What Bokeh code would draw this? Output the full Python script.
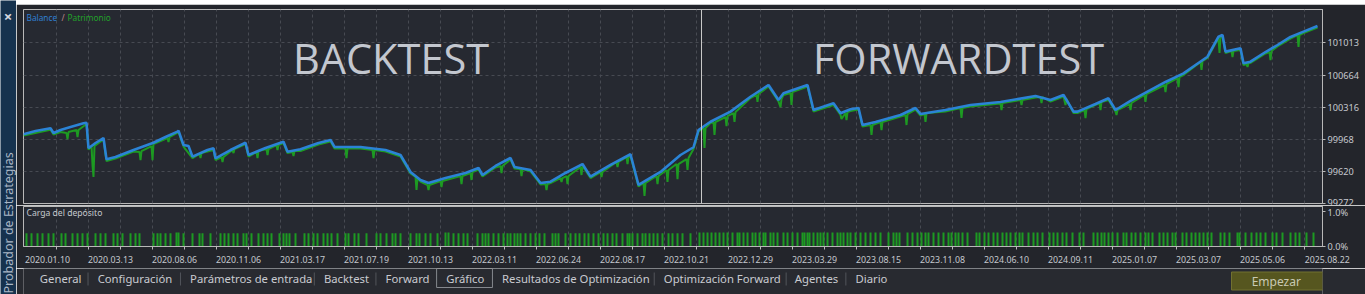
import math
from bokeh.plotting import figure
from bokeh.models import Range1d, LinearAxis, FixedTicker, Span, Grid
from bokeh.layouts import row, column
from bokeh.embed import file_html
from bokeh.resources import INLINE
from bokeh.core.properties import value

# ---------------- data ----------------
# x = deal index along the tester's x axis, value = account money
balance_pts = [
    (0, 100023), (12, 100058), (27, 100088), (30, 100037), (37, 100069), (47, 100102), (60, 100142),
    (63, 100148), (65, 99871), (72, 99928), (80, 99982), (83, 99751), (92, 99776), (110, 99852),
    (130, 99931), (142, 99993), (154, 100051), (155, 100062), (160, 99907), (165, 99896), (169, 99780),
    (184, 99852), (190, 99871), (192, 99762), (207, 99852), (222, 99931), (225, 99798), (242, 99874),
    (260, 99942), (264, 99834), (277, 99860), (295, 99928), (307, 99961), (311, 99885), (337, 99885),
    (362, 99852), (377, 99798), (387, 99614), (397, 99527), (405, 99494), (422, 99549), (442, 99603),
    (455, 99657), (459, 99581), (472, 99679), (487, 99766), (491, 99668), (507, 99635), (517, 99494),
    (527, 99508), (542, 99603), (559, 99700), (567, 99563), (587, 99690), (607, 99806), (615, 99473),
    (637, 99614), (657, 99798), (670, 99882), (675, 100069), (687, 100159), (707, 100268), (727, 100430),
    (745, 100557), (755, 100395), (760, 100467), (784, 100557), (790, 100286), (810, 100359), (817, 100250),
    (827, 100294), (835, 100308), (839, 100123), (852, 100156), (877, 100232), (892, 100308), (897, 100243),
    (922, 100286), (947, 100340), (977, 100373), (1012, 100438), (1027, 100395), (1040, 100449),
    (1050, 100268), (1054, 100268), (1072, 100351), (1085, 100413), (1092, 100286), (1107, 100384),
    (1124, 100485), (1142, 100590), (1160, 100684), (1172, 100774), (1184, 100864), (1195, 101081),
    (1199, 101100), (1202, 100919), (1217, 100956), (1220, 100793), (1227, 100810), (1242, 100915),
    (1254, 100991), (1267, 101078), (1280, 101136), (1294, 101197),
]

equity_pts = [
    (0, 100009), (27, 100071), (30, 100020), (37, 100047), (43, 100036), (44, 99971), (45, 100047),
    (53, 100069), (54, 99993), (55, 100069), (63, 100134), (65, 99857), (68, 99895), (69, 99689),
    (70, 99559), (71, 99895), (80, 99966), (83, 99733), (92, 99760), (110, 99836), (116, 99830),
    (117, 99743), (118, 99841), (128, 99895), (129, 99743), (130, 99917), (144, 99982), (145, 99939),
    (146, 99993), (155, 100047), (160, 99890), (169, 99765), (176, 99809), (177, 99765), (178, 99819),
    (190, 99852), (192, 99743), (198, 99776), (199, 99722), (200, 99776), (209, 99852), (210, 99819),
    (211, 99863), (222, 99917), (225, 99781), (233, 99830), (234, 99765), (235, 99841), (243, 99863),
    (244, 99798), (245, 99863), (253, 99906), (254, 99852), (255, 99906), (260, 99928), (264, 99819),
    (269, 99830), (270, 99787), (271, 99841), (277, 99841), (295, 99912), (307, 99944), (311, 99868),
    (322, 99868), (323, 99765), (324, 99868), (337, 99868), (349, 99852), (350, 99765), (351, 99852),
    (362, 99836), (377, 99781), (387, 99597), (392, 99559), (393, 99418), (394, 99548), (397, 99510),
    (404, 99472), (405, 99418), (406, 99472), (417, 99516), (418, 99451), (419, 99516), (437, 99570),
    (438, 99483), (439, 99570), (447, 99602), (448, 99527), (449, 99613), (455, 99640), (459, 99565),
    (472, 99662), (477, 99678), (478, 99602), (479, 99678), (487, 99749), (491, 99651), (497, 99646),
    (498, 99570), (499, 99646), (507, 99619), (517, 99478), (522, 99483), (523, 99418), (524, 99483),
    (527, 99494), (537, 99548), (538, 99505), (539, 99548), (543, 99570), (544, 99483), (545, 99570),
    (557, 99668), (558, 99581), (559, 99678), (567, 99548), (577, 99613), (578, 99559), (579, 99613),
    (593, 99722), (594, 99668), (595, 99722), (603, 99776), (604, 99700), (605, 99776), (607, 99787),
    (615, 99456), (620, 99494), (621, 99353), (622, 99494), (633, 99570), (634, 99483), (635, 99570),
    (643, 99635), (644, 99505), (645, 99635), (653, 99700), (654, 99537), (655, 99700), (663, 99754),
    (664, 99635), (665, 99765), (670, 99863), (675, 100053), (680, 100091), (681, 99874), (682, 100091),
    (687, 100145), (690, 100156), (691, 100015), (692, 100156), (702, 100210), (703, 100112),
    (704, 100221), (710, 100253), (711, 100156), (712, 100264), (727, 100416), (733, 100449),
    (734, 100373), (735, 100459), (745, 100541), (755, 100378), (757, 100318), (758, 100405),
    (760, 100449), (767, 100470), (768, 100340), (769, 100481), (784, 100541), (790, 100270),
    (810, 100340), (817, 100232), (818, 100188), (822, 100253), (823, 100177), (824, 100264),
    (827, 100275), (835, 100291), (839, 100107), (847, 100123), (848, 100015), (849, 100123),
    (857, 100156), (858, 100069), (859, 100156), (877, 100215), (882, 100232), (883, 100123),
    (884, 100242), (892, 100291), (897, 100226), (901, 100242), (902, 100156), (903, 100253),
    (922, 100270), (937, 100308), (938, 100199), (939, 100308), (947, 100324), (977, 100356),
    (978, 100286), (979, 100362), (997, 100394), (998, 100340), (999, 100394), (1012, 100421),
    (1017, 100427), (1018, 100362), (1019, 100427), (1027, 100378), (1040, 100432), (1042, 100340),
    (1043, 100405), (1050, 100253), (1054, 100253), (1061, 100286), (1062, 100199), (1063, 100297),
    (1076, 100362), (1077, 100286), (1078, 100373), (1085, 100394), (1092, 100270), (1093, 100232),
    (1094, 100286), (1106, 100351), (1107, 100286), (1108, 100362), (1121, 100449), (1122, 100373),
    (1123, 100459), (1141, 100557), (1142, 100481), (1143, 100568), (1154, 100633), (1155, 100535),
    (1156, 100644), (1160, 100665), (1177, 100806), (1178, 100720), (1179, 100817), (1184, 100850),
    (1195, 101067), (1196, 100904), (1197, 101078), (1199, 101083), (1202, 100904), (1208, 100926),
    (1209, 100861), (1210, 100926), (1217, 100937), (1220, 100774), (1223, 100785), (1224, 100752),
    (1225, 100796), (1227, 100796), (1242, 100899), (1246, 100915), (1247, 100828), (1248, 100926),
    (1254, 100975), (1267, 101061), (1274, 101099), (1275, 100969), (1276, 101099), (1280, 101121),
    (1294, 101181),
]

# deposit load (%) per deal
load_pts = [
    (3, .38), (8, .38), (14, .38), (19, .38), (25, .38), (30, .38), (38, .38), (42, .38), (49, .38),
    (54, .38), (59, .38), (64, .38), (72, .38), (77, .38), (82, .38), (90, .38), (94, .38), (99, .38),
    (107, .38), (112, .38), (116, .38), (130, .38), (134, .38), (137, .38), (142, .38), (147, .38),
    (153, .40), (155, .40), (160, .38), (169, .38), (176, .38), (179, .38), (187, .38), (197, .38),
    (201, .38), (205, .38), (210, .38), (214, .38), (220, .38), (223, .38), (228, .38), (235, .38),
    (240, .38), (244, .38), (248, .38), (256, .38), (260, .38), (263, .38), (266, .38), (272, .38),
    (281, .38), (285, .38), (290, .38), (294, .38), (300, .38), (304, .38), (308, .38), (314, .38),
    (322, .38), (325, .38), (331, .38), (335, .38), (343, .38), (353, .38), (357, .38), (363, .38),
    (369, .38), (372, .38), (377, .38), (387, .38), (393, .38), (396, .38), (402, .38), (407, .38),
    (414, .38), (422, .40), (425, .40), (430, .38), (435, .38), (440, .38), (444, .38), (454, .38),
    (459, .38), (462, .38), (465, .38), (470, .38), (475, .38), (480, .38), (484, .38), (487, .38),
    (491, .38), (494, .38), (497, .38), (502, .38), (507, .38), (512, .38), (516, .38), (521, .38),
    (529, .38), (532, .38), (535, .38), (542, .38), (547, .38), (552, .38), (556, .38), (561, .38),
    (565, .38), (570, .38), (575, .38), (580, .38), (584, .38), (589, .38), (593, .38), (599, .38),
    (604, .38), (606, .38), (609, .38), (614, .38), (619, .38), (622, .38), (626, .38), (630, .38),
    (634, .38), (639, .38), (645, .38), (649, .38), (654, .38), (659, .38), (667, .38), (676, .40),
    (680, .40), (684, .40), (688, .40), (692, .40), (696, .40), (700, .40), (704, .40), (709, .40),
    (714, .40), (716, .40), (720, .40), (724, .40), (729, .40), (732, .40), (736, .40), (740, .40),
    (742, .40), (747, .40), (750, .40), (754, .40), (760, .40), (764, .40), (769, .40), (774, .40),
    (779, .40), (781, .40), (784, .40), (786, .40), (790, .40), (794, .40), (797, .40), (800, .40),
    (804, .40), (809, .40), (814, .40), (817, .40), (820, .40), (824, .40), (827, .40), (832, .40),
    (837, .40), (842, .40), (847, .40), (852, .40), (857, .40), (865, .40), (870, .40), (873, .40),
    (876, .40), (884, .40), (889, .40), (894, .40), (898, .40), (902, .40), (905, .40), (910, .40),
    (915, .40), (920, .40), (925, .40), (928, .40), (932, .40), (935, .40), (939, .40), (944, .40),
    (953, .40), (956, .40), (961, .40), (965, .40), (970, .40), (974, .40), (979, .40), (983, .40),
    (987, .40), (992, .40), (996, .40), (999, .40), (1005, .40), (1010, .40), (1014, .40), (1019, .40),
    (1026, .40), (1030, .40), (1034, .40), (1039, .40), (1043, .40), (1049, .40), (1056, .40),
    (1060, .40), (1070, .40), (1074, .40), (1078, .40), (1081, .40), (1085, .40), (1089, .40),
    (1094, .40), (1100, .40), (1103, .40), (1108, .40), (1112, .40), (1117, .40), (1122, .40),
    (1125, .40), (1129, .40), (1136, .40), (1140, .40), (1144, .40), (1149, .40), (1152, .40),
    (1159, .40), (1163, .40), (1168, .40), (1172, .40), (1176, .40), (1180, .40), (1184, .40),
    (1188, .40), (1197, .40), (1201, .40), (1206, .40), (1214, .40), (1216, .40), (1222, .40),
    (1228, .40), (1233, .40), (1237, .40), (1242, .40), (1249, .40), (1253, .40), (1259, .40),
    (1267, .40), (1272, .40), (1276, .40), (1283, .40), (1290, .40),
]

value_ticks = [99272, 99620, 99968, 100316, 100664, 101013]
value_tick_labels = ["99272", "99620", "99968", "100316", "100664", "101013"]
load_ticks = [0, 1]
load_tick_labels = ["0.0%", "1.0%"]
date_labels = ["2020.01.10", "2020.03.13", "2020.08.06", "2020.11.06", "2021.03.17", "2021.07.19",
               "2021.10.13", "2022.03.11", "2022.06.24", "2022.08.17", "2022.10.21", "2022.12.29",
               "2023.03.29", "2023.08.15", "2023.11.08", "2024.06.10", "2024.09.11", "2025.01.07",
               "2025.03.07", "2025.05.06", "2025.08.22"]
date_pos = [2, 65, 129, 193, 257, 321, 385, 449, 513, 577, 641, 705, 769, 833, 897, 961, 1025,
            1089, 1153, 1217, 1281]
forward_start = 678

tab_names = ["General", "Configuración", "Parámetros de entrada", "Backtest", "Forward", "Gráfico",
             "Resultados de Optimización", "Optimización Forward", "Agentes", "Diario"]

# ---------------- style / layout ----------------
OUTER_BG = "#23252b"
CHART_BG = "#262931"
FRAME = "#b8b8b8"
GRID = "#474a52"
LABEL = "#c5c8ce"
BLUE = "#2b83d6"
GREEN = "#1d9a22"
SIDEBAR = "#16324e"
STRIP = "#3a3d44"
TAB_BG = "#282a30"
UI_FONT = "Noto Sans"
X_END = 1299
NBSP = "\u00a0"

tab_x = [33, 93, 189, 328, 392, 455, 513, 681, 817, 880]
tab_sep_x = [83, 179, 318, 382, 671, 808, 870]

bal_x = [p[0] for p in balance_pts]
bal_v = [p[1] for p in balance_pts]
eq_x = [p[0] for p in equity_pts]
eq_v = [p[1] for p in equity_pts]
load_x = [p[0] for p in load_pts]
load_v = [p[1] for p in load_pts]

grid_x = [1 + 32 * k for k in range(1, 41)]

# date labels are left-aligned at their tick in the tester; bokeh centres them,
# so the tick carrying the label sits half a label-width to the right.
date_ticks, date_texts = [], []
for p, lab in zip(date_pos, date_labels):
    c = p + 22
    if c < X_END:
        date_ticks.append(c)
        date_texts.append(lab)
    else:  # last label overhangs the frame: pin it at the frame end and pad it
        date_ticks.append(X_END - 1)
        date_texts.append(NBSP * 5 + lab)

x_range = Range1d(0, X_END)

def base_fig(w, h, **kw):
    return figure(width=w, height=h, output_backend="svg", toolbar_location=None,
                  x_axis_type=None, y_axis_type=None, **kw)

def style_axis(ax, size, tick_out=3, standoff=2):
    ax.axis_line_color = FRAME
    ax.major_tick_line_color = FRAME
    ax.major_tick_out = tick_out
    ax.major_tick_in = 0
    ax.minor_tick_line_color = None
    ax.major_label_text_color = LABEL
    ax.major_label_text_font = UI_FONT
    ax.major_label_text_font_size = size
    ax.major_label_standoff = standoff

# ---- top strip ----
strip = base_fig(1349, 4, min_border=0, background_fill_color=STRIP, border_fill_color=STRIP,
                 outline_line_color=None, x_range=Range1d(0, 1), y_range=Range1d(0, 1))

# ---- main chart ----
main = base_fig(1349, 201, x_range=x_range, y_range=Range1d(99272, 101376),
                min_border_left=7, min_border_right=43, min_border_top=5, min_border_bottom=2,
                background_fill_color=CHART_BG, border_fill_color=OUTER_BG,
                outline_line_color=FRAME, outline_line_width=1)
main.extra_x_ranges = {"px": Range1d(23, 1322)}
main.extra_y_ranges = {"py": Range1d(203, 9)}
main.add_layout(Grid(dimension=0, ticker=FixedTicker(ticks=grid_x), grid_line_color=GRID,
                     grid_line_dash="3 3"))
main.add_layout(Grid(dimension=1, ticker=FixedTicker(ticks=value_ticks), grid_line_color=GRID,
                     grid_line_dash="3 3"))
yax = LinearAxis(ticker=FixedTicker(ticks=value_ticks),
                 major_label_overrides=dict(zip(value_ticks, value_tick_labels)))
style_axis(yax, "9.2px")
main.add_layout(yax, "right")

main.text(x=[390.5], y=[57.5], text=["BACKTEST"], x_range_name="px", y_range_name="py",
          text_font=value("Open Sans"), text_font_size="41.5px", text_color="#c3c7cf",
          text_align="center", text_baseline="middle")
main.text(x=[958], y=[57.5], text=["FORWARDTEST"], x_range_name="px", y_range_name="py",
          text_font=value("Open Sans"), text_font_size="41.5px", text_color="#c3c7cf",
          text_align="center", text_baseline="middle")
main.add_layout(Span(location=forward_start, dimension="height", line_color="#c8c8c8", line_width=1))

main.line(eq_x, eq_v, line_color=GREEN, line_width=2)
main.line(bal_x, bal_v, line_color=BLUE, line_width=2.6)

main.text(x=[26], y=[17], text=["Balance"], x_range_name="px", y_range_name="py",
          text_font=value(UI_FONT), text_font_size="8.3px", text_color="#2f7fd2",
          text_baseline="middle")
main.text(x=[61], y=[17], text=["/"], x_range_name="px", y_range_name="py",
          text_font=value(UI_FONT), text_font_size="8.3px", text_color="#c08a8a",
          text_baseline="middle")
main.text(x=[67], y=[17], text=["Patrimonio"], x_range_name="px", y_range_name="py",
          text_font=value(UI_FONT), text_font_size="8.3px", text_color="#22a02a",
          text_baseline="middle")

# ---- lower (deposit load) panel ----
lower = base_fig(1349, 63, x_range=x_range, y_range=Range1d(0, 1.14),
                 min_border_left=7, min_border_right=43, min_border_top=1, min_border_bottom=17,
                 background_fill_color=CHART_BG, border_fill_color=OUTER_BG,
                 outline_line_color=FRAME, outline_line_width=1)
lower.extra_x_ranges = {"px": Range1d(23, 1322)}
lower.extra_y_ranges = {"py": Range1d(251, 206)}
lower.add_layout(Grid(dimension=0, ticker=FixedTicker(ticks=grid_x), grid_line_color=GRID,
                      grid_line_dash="3 3"))
rax = LinearAxis(ticker=FixedTicker(ticks=load_ticks),
                 major_label_overrides=dict(zip(load_ticks, load_tick_labels)))
style_axis(rax, "9.2px")
lower.add_layout(rax, "right")
xax = LinearAxis(ticker=FixedTicker(ticks=date_ticks, minor_ticks=grid_x),
                 major_label_overrides=dict(zip(date_ticks, date_texts)))
style_axis(xax, "8.8px", tick_out=0, standoff=4)
xax.minor_tick_line_color = FRAME
xax.minor_tick_out = 3
xax.minor_tick_in = 0
lower.add_layout(xax, "below")
lower.vbar(x=load_x, top=load_v, bottom=0, width=2, fill_color=GREEN, line_color=None)
lower.text(x=[26], y=[213.7], text=["Carga del depósito"], x_range_name="px", y_range_name="py",
           text_font=value(UI_FONT), text_font_size="8.6px", text_color=LABEL,
           text_baseline="middle")

# ---- tab bar ----
tabs = base_fig(1349, 26, min_border=0, x_range=Range1d(16, 1365), y_range=Range1d(294, 268),
                background_fill_color=TAB_BG, border_fill_color=TAB_BG, outline_line_color=None)
tabs.segment(x0=[16, 503], y0=[268, 268], x1=[445, 1365], y1=[268, 268],
             line_color="#6d7076", line_width=1)
tabs.segment(x0=[445, 503, 445], y0=[268, 268, 287], x1=[445, 503, 503], y1=[287, 287, 287],
             line_color="#85888e", line_width=1)
tabs.segment(x0=tab_sep_x, y0=[272] * len(tab_sep_x), x1=tab_sep_x, y1=[285] * len(tab_sep_x),
             line_color="#52555b", line_width=1)
tabs.text(x=tab_x, y=[277.7] * len(tab_x), text=tab_names, text_font=value(UI_FONT),
          text_font_size="11.3px", text_color="#c8cbd0", text_baseline="middle")
tabs.quad(left=[1270.5], right=[1366], top=[271.5], bottom=[289.5], fill_color="#56561f",
          line_color="#717030", line_width=1)
tabs.text(x=[1317], y=[280.5], text=["Empezar"], text_font=value(UI_FONT), text_font_size="12px",
          text_color="#c9c9b4", text_align="center", text_baseline="middle")

# ---- sidebar ----
side = base_fig(16, 294, min_border=0, x_range=Range1d(0, 16), y_range=Range1d(294, 0),
                background_fill_color=SIDEBAR, border_fill_color=SIDEBAR, outline_line_color=None)
side.text(x=[7.5], y=[15], text=["×"], text_font=value(UI_FONT), text_font_size="15px",
          text_font_style="bold", text_color="#d4d9e0", text_align="center", text_baseline="middle")
side.text(x=[8], y=[293], text=["Probador de Estrategias"], angle=math.pi / 2,
          text_font=value(UI_FONT), text_font_size="12.5px", text_color="#a9b6c6",
          text_align="left", text_baseline="middle")

layout = row(side, column(strip, main, lower, tabs, spacing=0), spacing=0)
open("out.html", "w").write(file_html(layout, INLINE))
